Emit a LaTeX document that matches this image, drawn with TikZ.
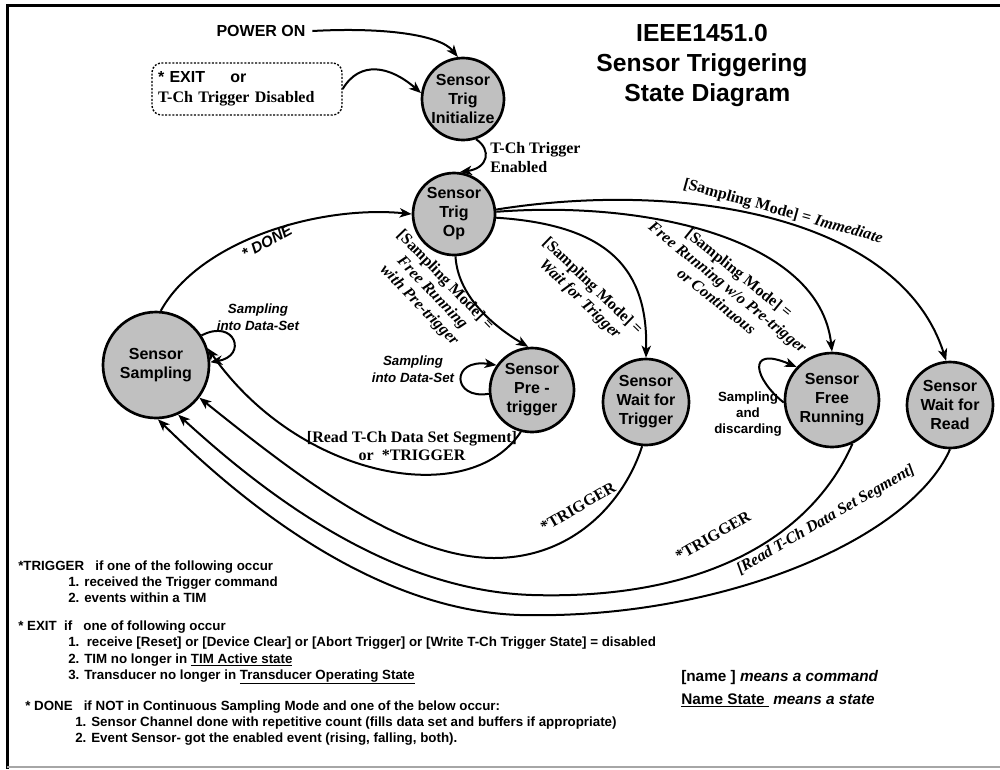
\documentclass[tikz,border=0pt]{standalone}
\usepackage{fontspec}
\setmainfont{Liberation Serif}
\newfontfamily\arial{Liberation Sans}
\usetikzlibrary{arrows.meta}
\definecolor{stategray}{HTML}{C0C0C0}
\begin{document}
\begin{tikzpicture}[x=0.75pt,y=-0.75pt,
 state/.style={circle,draw,line width=2pt,fill=stategray,inner sep=0pt,align=center,font=\arial\bfseries\fontsize{12}{14.25}\selectfont},
 tr/.style={line width=1.5pt,-{Stealth[length=9pt,width=7pt,inset=2.5pt]}},
 tlab/.style={font=\bfseries\fontsize{12}{13.5}\selectfont,align=center,inner sep=0pt},
 alab/.style={font=\arial\bfseries\itshape\fontsize{10}{12.75}\selectfont,align=center,inner sep=0pt},
 leg/.style={font=\arial\bfseries\fontsize{10}{12}\selectfont,anchor=base west,inner sep=0pt},
]
\useasboundingbox (0,0) rectangle (1000,769);
% frame
\draw[line width=2.25pt] (1000,5) -- (7,5) -- (7,769);
\draw[gray!70,line width=1pt] (7,767) -- (1000,767);

% title
\node[font=\arial\bfseries\fontsize{18.5}{22.5}\selectfont,align=center] (title) at (702,65) {IEEE1451.0\\Sensor Triggering\\\hspace*{8pt}State Diagram};

% states
\node[state,minimum size=61.5pt] (init) at (463,99) {Sensor\\Trig\\Initialize};
\node[state,minimum size=61.5pt] (op) at (454,214) {Sensor\\Trig\\Op};
\node[state,minimum size=79.5pt] (samp) at (156,365) {Sensor\\Sampling};
\node[state,minimum size=63pt] (pre) at (532,390) {Sensor\\Pre -\\trigger};
\node[state,minimum size=64.5pt] (wft) at (646,402) {Sensor\\Wait for\\Trigger};
\node[state,minimum size=70.5pt] (free) at (832,400) {Sensor\\Free\\Running};
\node[state,minimum size=64.5pt] (wfr) at (950,405) {Sensor\\Wait for\\Read};

% entry
\node[font=\arial\bfseries\fontsize{12}{14}\selectfont,inner sep=0pt,inner xsep=5pt] (pwr) at (261,31) {POWER ON};
\node[draw,line width=1pt,dash pattern=on 1.5pt off 1.2pt,rounded corners=7pt,minimum width=142.5pt,minimum height=39pt,text width=133.5pt,align=left,inner xsep=4.5pt,font=\fontsize{12}{15}\selectfont] (exitbox) at (247,89) {{\arial\bfseries * EXIT\hspace{19pt}or}\\{\bfseries T-Ch Trigger Disabled}};

% edges
\draw[tr] (pwr.east) .. controls (385,27) and (440,35) .. (init.97);
\draw[tr] (exitbox.east) .. controls (360,60) and (390,66) .. (init.172);
\draw[tr] (init.-72) .. controls (492,150) and (488,168) .. (op.82);
\draw[tr] (samp.85) .. controls (200,240) and (320,205) .. (op.west);
\draw[tr] (samp.33) .. controls (235,318) and (248,356) .. (samp.3);
\draw[tr] (op.-88) .. controls (458,300) and (500,330) .. (pre.95);
\draw[tr] (pre.185) .. controls (452,400) and (450,358) .. (pre.145);
\draw[tr] (pre.-105) .. controls (470,510) and (300,480) .. (samp.18);
\draw[tr] (wft.-95) .. controls (625,500) and (575,558) .. (494,558) .. controls (400,558) and (290,470) .. (samp.-37);
\draw[tr] (free.-65) .. controls (810,540) and (700,600) .. (532,595) .. controls (380,590) and (250,480) .. (samp.-66);
\draw[tr] (wfr.-90) .. controls (910,540) and (720,620) .. (520,615) .. controls (360,610) and (220,480) .. (samp.-88);
\draw[tr] (op.-5) .. controls (610,225) and (648,270) .. (wft.north);
\draw[tr] (op.3) .. controls (650,200) and (820,240) .. (free.north);
\draw[tr] (op.6) .. controls (680,180) and (900,215) .. (wfr.95);
\draw[tr] (free.183) .. controls (755,380) and (745,345) .. (free.137);

% edge labels
\node[tlab,anchor=west,align=left,font=\bfseries\fontsize{12}{14.25}\selectfont] (lenab) at (490,158) {T-Ch Trigger\\Enabled};
\node[font=\arial\bfseries\itshape\fontsize{11.5}{13}\selectfont,rotate=29,inner sep=0pt] (ldone) at (267,242) {* DONE};
\node[alab] (lsl1) at (258,317) {Sampling\\into Data-Set};
\node[tlab,rotate=-46] (lpre) at (432,293) {[Sampling Mode] =\\\textit{Free Running}\\\textit{with Pre-trigger}};
\node[alab] (lpl) at (413,369) {Sampling\\into Data-Set};
\node[tlab] (lrd) at (412,446) {[Read T-Ch Data Set Segment]\\or\ \ *TRIGGER};
\node[tlab,rotate=-44] (lwft) at (586,293) {[Sampling Mode] =\\\textit{Wait for Trigger}};
\node[tlab,rotate=-39] (lfree) at (728,287) {[Sampling Mode] =\\\textit{Free Running w/o Pre-trigger}\\\textit{or Continuous}};
\node[tlab,rotate=-15.5] (limm) at (783,212) {[Sampling Mode] = \textit{Immediate}};
\node[tlab,rotate=30] (ltr1) at (578,507) {*TRIGGER};
\node[tlab,rotate=30] (ltr2) at (713,536) {*TRIGGER};
\node[tlab,rotate=30,font=\bfseries\itshape\fontsize{12}{13.5}\selectfont] (lrd2) at (826,520) {[Read T-Ch Data Set Segment]};
\node[font=\arial\bfseries\fontsize{10}{12}\selectfont,align=center,inner sep=0pt] (ldisc) at (748,414) {Sampling\\and\\discarding};

% legend
\node[leg] (g1) at (18,570) {*TRIGGER\ \ \ if one of the following occur};
\node[leg] (g2) at (68,586) {1. received the Trigger command};
\node[leg] (g3) at (68,602) {2. events within a TIM};
\node[leg] (g4) at (18,630) {* EXIT\ \ if\ \ \ one of following occur};
\node[leg] (g5) at (68,646) {1.\ \ receive [Reset] or [Device Clear] or [Abort Trigger] or [Write T-Ch Trigger State] = disabled};
\node[leg] (g6) at (68,663) {2. TIM no longer in \underline{TIM Active state}};
\node[leg] (g7) at (68,679) {3. Transducer no longer in \underline{Transducer Operating State}};
\node[leg] (g8) at (25,710) {* DONE\ \ \ if NOT in Continuous Sampling Mode and one of the below occur:};
\node[leg] (g9) at (75,726) {1. Sensor Channel done with repetitive count (fills data set and buffers if appropriate)};
\node[leg] (g10) at (75,742) {2. Event Sensor- got the enabled event (rising, falling, both).};
\node[leg,font=\arial\bfseries\fontsize{11.5}{13}\selectfont] (k1) at (681,681) {[name ] \textit{means a command}};
\node[leg,font=\arial\bfseries\fontsize{11.5}{13}\selectfont] (k2) at (681,704) {\underline{Name State\ } \textit{means a state}};
\end{tikzpicture}
\end{document}
